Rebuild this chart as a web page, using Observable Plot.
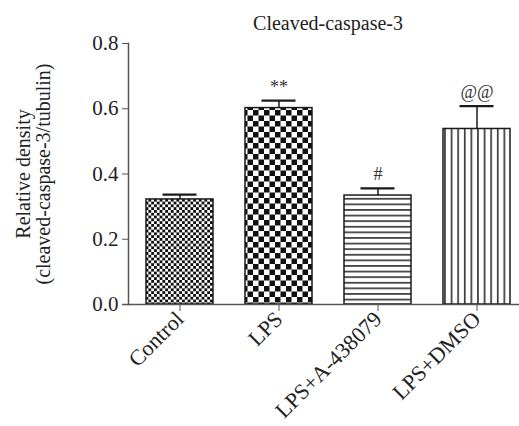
<!DOCTYPE html>
<html><head><meta charset="utf-8">
<script src="https://cdn.jsdelivr.net/npm/d3@7"></script>
<script src="https://cdn.jsdelivr.net/npm/@observablehq/plot@0.6"></script>
<style>body{margin:0;background:#fff} #chart{width:519px;height:426px}</style>
</head><body><div id="chart"></div>
<script>
const groups = ["Control", "LPS", "LPS+A-438079", "LPS+DMSO"];
const means = [0.322, 0.602, 0.334, 0.538];
const errors = [0.015, 0.023, 0.022, 0.070];
const sigMarks = ["", "**", "#", "@@"];
const yTicks = [0, 0.2, 0.4, 0.6, 0.8];
const patternIds = ["p-fine", "p-check", "p-hline", "p-vline"];

const data = groups.map((g, i) => ({group: g, mean: means[i], top: means[i] + errors[i], mark: sigMarks[i]}));
const font = "Liberation Serif, Times New Roman, serif";

const plot = Plot.plot({
  width: 519,
  height: 426,
  marginLeft: 128,
  marginRight: 0,
  marginTop: 43,
  marginBottom: 122,
  style: {fontFamily: font, fontSize: "20px", color: "#222", background: "#fff"},
  x: {domain: groups, range: [128, 528], paddingInner: 0.325, paddingOuter: 0.176},
  y: {domain: [0, 0.8]},
  marks: [
    ...groups.map((g, i) => Plot.barY([data[i]], {x: "group", y: "mean", fill: `url(#${patternIds[i]})`, stroke: "#1a1a1a", strokeWidth: 1.5})),
    Plot.ruleX(data, {x: "group", y1: "mean", y2: "top", stroke: "#1a1a1a", strokeWidth: 1.5}),
    Plot.tickY(data, {x: "group", y: "top", stroke: "#1a1a1a", strokeWidth: 2.2, insetLeft: 16.5, insetRight: 16.5}),
    Plot.text(data, {x: "group", y: "top", text: "mark", lineAnchor: "bottom", dy: -8, fontSize: 18, fill: "#333"}),
    Plot.ruleY([0], {stroke: "#555", strokeWidth: 1.5, insetLeft: -6}),
    Plot.frame({anchor: "left", stroke: "#555", strokeWidth: 1.5}),
    Plot.axisY({ticks: yTicks, tickFormat: d3.format(".1f"), tickSize: 6, tickPadding: 4, label: null, fontSize: 21, stroke: "#555"}),
    Plot.axisX({tickRotate: -45, tickSize: 7, tickPadding: 4, label: null, fontSize: 22, stroke: "#555"}),
    Plot.text(["Relative density\n(cleaved-caspase-3/tubulin)"], {frameAnchor: "left", textAnchor: "middle", dx: -95, rotate: -90, fontSize: 20, lineHeight: 1.0, fill: "#222"}),
    Plot.text(["Cleaved-caspase-3"], {frameAnchor: "top", dx: 4, dy: -28, fontSize: 20, fill: "#222"})
  ]
});

const svg = d3.select(plot);
const defs = svg.insert("defs", ":first-child");
// fine checkerboard
const p1 = defs.append("pattern").attr("id", "p-fine").attr("patternUnits", "userSpaceOnUse").attr("width", 5.6).attr("height", 5.6);
p1.append("rect").attr("width", 5.6).attr("height", 5.6).attr("fill", "#fff");
p1.append("rect").attr("width", 2.8).attr("height", 2.8).attr("fill", "#111");
p1.append("rect").attr("x", 2.8).attr("y", 2.8).attr("width", 2.8).attr("height", 2.8).attr("fill", "#111");
// coarse checkerboard
const p2 = defs.append("pattern").attr("id", "p-check").attr("patternUnits", "userSpaceOnUse").attr("width", 11).attr("height", 11);
p2.append("rect").attr("width", 11).attr("height", 11).attr("fill", "#fff");
p2.append("rect").attr("width", 5.5).attr("height", 5.5).attr("fill", "#111");
p2.append("rect").attr("x", 5.5).attr("y", 5.5).attr("width", 5.5).attr("height", 5.5).attr("fill", "#111");
// horizontal lines
const p3 = defs.append("pattern").attr("id", "p-hline").attr("patternUnits", "userSpaceOnUse").attr("width", 10).attr("height", 5.6);
p3.append("rect").attr("width", 10).attr("height", 5.6).attr("fill", "#fff");
p3.append("rect").attr("y", 2).attr("width", 10).attr("height", 1.5).attr("fill", "#222");
// vertical lines
const p4 = defs.append("pattern").attr("id", "p-vline").attr("patternUnits", "userSpaceOnUse").attr("width", 6.6).attr("height", 10);
p4.append("rect").attr("width", 6.6).attr("height", 10).attr("fill", "#fff");
p4.append("rect").attr("x", 2).attr("width", 1.5).attr("height", 10).attr("fill", "#222");

document.getElementById("chart").appendChild(plot);
</script>
</body></html>
